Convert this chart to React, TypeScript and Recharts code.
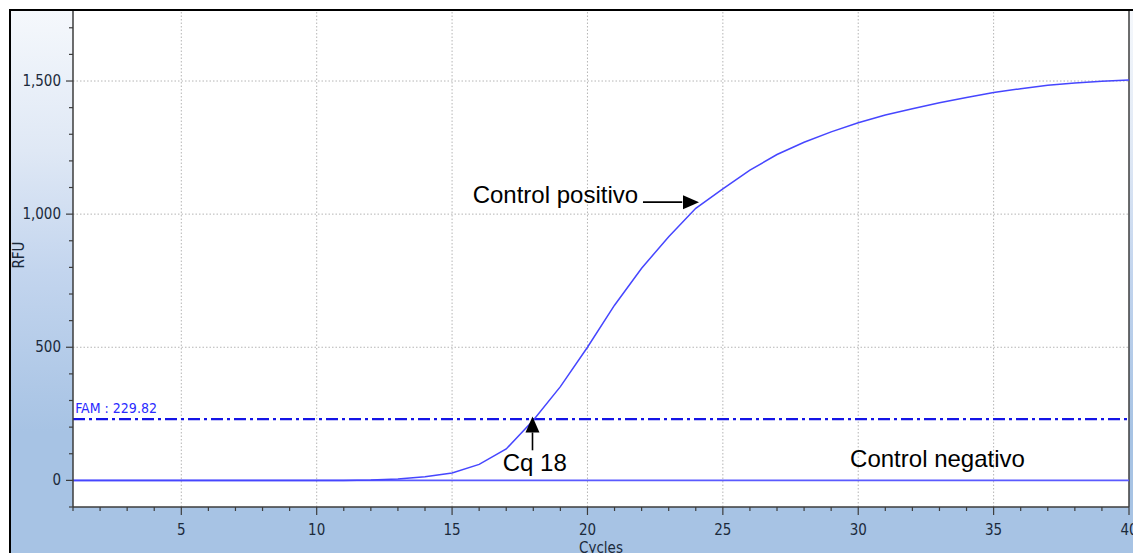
import React from 'react';
import { LineChart, Line, XAxis, YAxis, ReferenceLine, ReferenceDot } from 'recharts';

const cycles = [1,2,3,4,5,6,7,8,9,10,11,12,13,14,15,16,17,18,19,20,21,22,23,24,25,26,27,28,29,30,31,32,33,34,35,36,37,38,39,40];
const positivo = [0,0,0,0,0,0,0,0,0,0,0,1,5,14,28,60,118,226,352,500,658,797,915,1022,1095,1165,1224,1270,1309,1343,1372,1396,1418,1438,1457,1471,1484,1493,1499,1504];
const negativo = [0,0,0,0,0,0,0,0,0,0,0,0,0,0,0,0,0,0,0,0,0,0,0,0,0,0,0,0,0,0,0,0,0,0,0,0,0,0,0,0];

const xTicks = [1,2,3,4,5,6,7,8,9,10,11,12,13,14,15,16,17,18,19,20,21,22,23,24,25,26,27,28,29,30,31,32,33,34,35,36,37,38,39,40];
const xMajor = [5,10,15,20,25,30,35,40];
const yTicks = [-100,0,100,200,300,400,500,600,700,800,900,1000,1100,1200,1300,1400,1500,1600,1700];
const yMajor = [0,500,1000,1500];
const yDomain = [-100, 1763];
const threshold = 229.82;
const thresholdLabel = 'FAM : 229.82';

// annotations in data coordinates
const posText = { x: 21.87, y: 1040, text: 'Control positivo' };
const posArrow = { x1: 22.05, x2: 23.5, y: 1045, tipX: 24.12 };
const cqText = { x: 16.87, y: 34, text: 'Cq 18' };
const cqArrow = { x: 17.97, y1: 113, y2: 180, tipY: 240 };
const negText = { x: 29.7, y: 52, text: 'Control negativo' };
const famText = { x: 1.08, y: 252 };

const data = cycles.map((c, i) => ({ cycle: c, pos: positivo[i], neg: negativo[i] }));

const axisFont = "'Liberation Sans Narrow', 'DejaVu Sans Condensed', 'Liberation Sans', sans-serif";
const annFont = "'Liberation Sans', Arial, sans-serif";
const tickColor = '#1b2a3b';
const axisColor = '#3c3c3c';

const fmt = (v: number) => v.toLocaleString('en-US');

const YTick = (props: any) => {
  const { x, y, payload } = props;
  const major = yMajor.includes(payload.value);
  return (
    <g>
      <line x1={x - (major ? 7 : 4)} x2={x} y1={y} y2={y} stroke={axisColor} strokeWidth={1.2} />
      {major && (
        <text x={x - 12} y={y} dy={5} textAnchor="end" fontFamily={axisFont} fontSize={15} fill={tickColor}>
          {fmt(payload.value)}
        </text>
      )}
    </g>
  );
};

const XTick = (props: any) => {
  const { x, y, payload } = props;
  const major = xMajor.includes(payload.value);
  return (
    <g>
      <line x1={x} x2={x} y1={y} y2={y + (major ? 8 : 4)} stroke={axisColor} strokeWidth={1.2} />
      {major && (
        <text x={x} y={y + 28} textAnchor="middle" fontFamily={axisFont} fontSize={15} fill={tickColor}>
          {payload.value}
        </text>
      )}
    </g>
  );
};

const textShape = (text: string, anchor: string, color = '#000', size = 24, font = annFont) => (p: any) => (
  <text x={p.cx} y={p.cy} textAnchor={anchor as any} fontFamily={font} fontSize={size} fill={color}>
    {text}
  </text>
);

const arrowRight = (p: any) => (
  <polygon points={`${p.cx},${p.cy} ${p.cx - 16},${p.cy - 7} ${p.cx - 16},${p.cy + 7}`} fill="#000" />
);
const arrowUp = (p: any) => (
  <polygon points={`${p.cx},${p.cy} ${p.cx - 7},${p.cy + 16} ${p.cx + 7},${p.cy + 16}`} fill="#000" />
);

export default function App() {
  return (
    <div style={{ position: 'absolute', left: 0, top: 0, width: 1133, height: 553, overflow: 'hidden', background: '#fff' }}>
      <div
        style={{
          position: 'absolute', left: 9, top: 9, width: 1124, height: 544, boxSizing: 'border-box',
          borderTop: '2px solid #000', borderLeft: '2px solid #000',
          background: 'linear-gradient(to bottom, #f5f8fc 0px, #dfe8f5 140px, #c3d5ee 260px, #a7c3e4 420px, #a7c3e4 100%)',
        }}
      />
      <div style={{ position: 'absolute', left: 73, top: 11, width: 1056, height: 496, background: '#fff' }} />
      <div style={{ position: 'absolute', left: 0, top: 0 }}>
        <LineChart width={1133} height={553} data={data} margin={{ top: 11, right: 4, left: 0, bottom: 0 }}>
          <XAxis
            dataKey="cycle" type="number" domain={[1, 40]} ticks={xTicks} interval={0}
            height={46} tickSize={0} tickMargin={0} tick={<XTick />}
            axisLine={{ stroke: axisColor, strokeWidth: 1.5 }} allowDataOverflow
            label={{
              content: (lp: any) => {
                const vb = lp.viewBox || {};
                return (
                  <text x={vb.x + vb.width / 2} y={vb.y + 46} textAnchor="middle" fontFamily={axisFont} fontSize={15} fill={tickColor}>
                    Cycles
                  </text>
                );
              },
            }}
          />
          <YAxis
            type="number" domain={yDomain} ticks={yTicks} interval={0} width={73}
            tickSize={0} tickMargin={0} tick={<YTick />}
            axisLine={{ stroke: axisColor, strokeWidth: 1.5 }} allowDataOverflow
            label={{
              content: (lp: any) => {
                const vb = lp.viewBox || {};
                const cx = vb.x + 24;
                const cy = vb.y + vb.height / 2 - 4;
                return (
                  <text x={cx} y={cy} transform={`rotate(-90 ${cx} ${cy})`} textAnchor="middle" fontFamily={axisFont} fontSize={15} fill={tickColor}>
                    RFU
                  </text>
                );
              },
            }}
          />
          {xMajor.filter((v) => v < 40).map((v) => (
            <ReferenceLine key={'gx' + v} x={v} stroke="#b5b5b5" strokeDasharray="1.5 2" />
          ))}
          {yMajor.filter((v) => v > 0).map((v) => (
            <ReferenceLine key={'gy' + v} y={v} stroke="#b5b5b5" strokeDasharray="1.5 2" />
          ))}
          <ReferenceLine x={40} stroke={axisColor} strokeWidth={1.5} />
          <ReferenceLine y={threshold} stroke="#1414e6" strokeWidth={2.2} strokeDasharray="12 4 3 4" />
          <Line type="linear" dataKey="neg" stroke="#5a5aff" strokeWidth={1.6} dot={false} isAnimationActive={false} />
          <Line type="linear" dataKey="pos" stroke="#4646ff" strokeWidth={1.5} dot={false} isAnimationActive={false} />
          <ReferenceDot x={famText.x} y={famText.y} r={0} shape={textShape(thresholdLabel, 'start', '#2a2aff', 14, axisFont)} />
          <ReferenceDot x={posText.x} y={posText.y} r={0} shape={textShape(posText.text, 'end')} />
          <ReferenceLine segment={[{ x: posArrow.x1, y: posArrow.y }, { x: posArrow.x2, y: posArrow.y }]} stroke="#000" strokeWidth={1.6} />
          <ReferenceDot x={posArrow.tipX} y={posArrow.y} r={0} shape={arrowRight} />
          <ReferenceDot x={cqText.x} y={cqText.y} r={0} shape={textShape(cqText.text, 'start')} />
          <ReferenceLine segment={[{ x: cqArrow.x, y: cqArrow.y1 }, { x: cqArrow.x, y: cqArrow.y2 }]} stroke="#000" strokeWidth={1.6} />
          <ReferenceDot x={cqArrow.x} y={cqArrow.tipY} r={0} shape={arrowUp} />
          <ReferenceDot x={negText.x} y={negText.y} r={0} shape={textShape(negText.text, 'start')} />
        </LineChart>
      </div>
    </div>
  );
}
